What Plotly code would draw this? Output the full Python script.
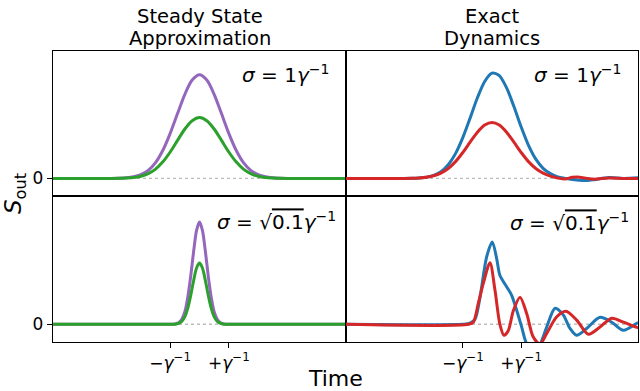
import plotly.graph_objects as go
from plotly.subplots import make_subplots

# ---------------- data ----------------
# time axis in units of 1/gamma
t_wide = [-5, -3, -2.75, -2.5, -2.25, -2, -1.75, -1.5, -1.25, -1, -0.75, -0.5, -0.25,
          0, 0.25, 0.5, 0.75, 1, 1.25, 1.5, 1.75, 2, 2.25, 2.5, 2.75, 3, 5]
ss_wide_purple = [0, 0, 0.002, 0.006, 0.015, 0.036, 0.078, 0.153, 0.272, 0.435, 0.626, 0.812, 0.949,
                  1.0, 0.949, 0.812, 0.626, 0.435, 0.272, 0.153, 0.078, 0.036, 0.015, 0.006, 0.002, 0, 0]
ss_wide_green = [0, 0, 0.001, 0.004, 0.009, 0.021, 0.046, 0.090, 0.160, 0.255, 0.367, 0.477, 0.557,
                 0.587, 0.557, 0.477, 0.367, 0.255, 0.160, 0.090, 0.046, 0.021, 0.009, 0.004, 0.001, 0, 0]

t_ex_wide = [-5, -3, -2.75, -2.5, -2.25, -2, -1.75, -1.5, -1.25, -1, -0.75, -0.5, -0.25,
             0, 0.25, 0.5, 0.75, 1, 1.25, 1.5, 1.75, 2, 2.25, 2.5, 2.75, 3, 3.25, 3.5, 4, 4.5, 5]
ex_wide_blue = [0, 0, 0.001, 0.004, 0.011, 0.029, 0.064, 0.131, 0.239, 0.393, 0.582, 0.778, 0.936,
                1.016, 0.992, 0.874, 0.694, 0.496, 0.319, 0.186, 0.097, 0.046, 0.015, 0.0, -0.01,
                -0.018, -0.02, -0.012, 0.008, 0.0, 0.005]
ex_wide_red = [0, 0, 0.001, 0.004, 0.011, 0.025, 0.051, 0.096, 0.162, 0.250, 0.350, 0.446, 0.515,
               0.54, 0.515, 0.446, 0.350, 0.250, 0.162, 0.096, 0.051, 0.022, 0.004, -0.006, 0.01,
               0.012, 0.0, -0.008, 0.004, 0.0, 0.0]

t_narrow = [-5, -1, -0.9, -0.8, -0.7, -0.6, -0.5, -0.4, -0.3, -0.2, -0.1,
            0, 0.1, 0.2, 0.3, 0.4, 0.5, 0.6, 0.7, 0.8, 0.9, 1, 5]
ss_narrow_purple = [0, 0, 0.001, 0.005, 0.017, 0.05, 0.12, 0.26, 0.46, 0.70, 0.90,
                    0.98, 0.90, 0.70, 0.46, 0.26, 0.12, 0.05, 0.017, 0.005, 0.001, 0, 0]
ss_narrow_green = [0, 0, 0.0, 0.003, 0.01, 0.029, 0.073, 0.155, 0.277, 0.42, 0.54,
                   0.587, 0.54, 0.42, 0.277, 0.155, 0.073, 0.029, 0.01, 0.003, 0.0, 0, 0]

t_ex_blue_narrow = [-5, -1.0, -0.75, -0.58, -0.41, -0.18, 0.01, 0.16, 0.27, 0.50, 0.67, 0.85, 1.02,
                    1.16, 1.4, 1.64, 1.87, 2.16, 2.44, 2.67, 2.90, 3.24, 3.70, 4.10, 4.5, 4.96, 5]
ex_narrow_blue = [0, 0, 0.01, 0.05, 0.26, 0.65, 0.79, 0.63, 0.47, 0.36, 0.28, 0.13, -0.03,
                  -0.17, -0.30, -0.20, -0.03, 0.154, 0.09, -0.04, -0.106, -0.04, 0.067, 0.02, -0.058, 0.01, 0.015]
t_ex_red_narrow = [-5, -0.8, -0.64, -0.47, -0.30, -0.07, 0.10, 0.27, 0.41, 0.56, 0.73, 0.96, 1.19,
                   1.41, 1.64, 1.87, 2.21, 2.53, 2.9, 3.30, 3.70, 4.10, 4.5, 4.96, 5]
ex_narrow_red = [0, 0, 0.02, 0.2, 0.39, 0.59, 0.33, 0.0, -0.106, -0.06, 0.13, 0.26, 0.10,
                 -0.12, -0.19, -0.09, 0.07, 0.125, 0.04, -0.096, -0.026, 0.058, 0.02, -0.03, -0.03]

col_titles = [["Steady State", "Approximation"], ["Exact", "Dynamics"]]
sigma_labels = ["<i>σ</i> = 1<i>γ</i><sup>−1</sup>",
                "<i>σ</i> = √<span style='text-decoration:overline'>0.1</span><i>γ</i><sup>−1</sup>"]
x_tick_vals = [-1, 1]
x_tick_text = ["−<i>γ</i><sup>−1</sup>", "+<i>γ</i><sup>−1</sup>"]
zero_t = [-5, 5]
zero_v = [0, 0]

PURPLE = "#9467bd"
GREEN = "#2ca02c"
BLUE = "#1f77b4"
RED = "#d62728"
FONT = "DejaVu Sans"

fig = make_subplots(rows=2, cols=2, horizontal_spacing=0, vertical_spacing=0)

panels = [
    (1, 1, t_wide, ss_wide_purple, PURPLE, t_wide, ss_wide_green, GREEN),
    (1, 2, t_ex_wide, ex_wide_blue, BLUE, t_ex_wide, ex_wide_red, RED),
    (2, 1, t_narrow, ss_narrow_purple, PURPLE, t_narrow, ss_narrow_green, GREEN),
    (2, 2, t_ex_blue_narrow, ex_narrow_blue, BLUE, t_ex_red_narrow, ex_narrow_red, RED),
]
for r, c, ta, ya, ca, tb, yb, cb in panels:
    fig.add_trace(go.Scatter(x=zero_t, y=zero_v, mode="lines",
                             line=dict(color="#bdbdbd", width=1.3, dash="dot"),
                             showlegend=False, hoverinfo="skip"), row=r, col=c)
    fig.add_trace(go.Scatter(x=ta, y=ya, mode="lines",
                             line=dict(color=ca, width=3, shape="spline", smoothing=0.8),
                             showlegend=False), row=r, col=c)
    fig.add_trace(go.Scatter(x=tb, y=yb, mode="lines",
                             line=dict(color=cb, width=3, shape="spline", smoothing=0.8),
                             showlegend=False), row=r, col=c)

xdom_l = [53 / 640, 346 / 640]
xdom_r = [346 / 640, 638 / 640]
ydom_t = [1 - 196 / 391, 1 - 51 / 391]
ydom_b = [1 - 342 / 391, 1 - 196 / 391]

axis_common = dict(showline=True, mirror=True, linecolor="black", linewidth=1.3,
                   showgrid=False, zeroline=False)
for r in (1, 2):
    for c in (1, 2):
        xd = xdom_l if c == 1 else xdom_r
        yd = ydom_t if r == 1 else ydom_b
        xa = dict(axis_common, domain=xd, range=[-5, 5])
        if r == 2:
            xa.update(tickmode="array", tickvals=x_tick_vals, ticktext=x_tick_text,
                      ticks="outside", ticklen=5, tickwidth=1.2, tickcolor="black",
                      tickfont=dict(family=FONT, size=17, color="black"))
        else:
            xa.update(showticklabels=False, ticks="")
        ya = dict(axis_common, domain=yd, range=[-0.17, 1.23])
        if c == 1:
            ya.update(tickmode="array", tickvals=[0], ticktext=["0"],
                      ticks="outside", ticklen=5, tickwidth=1.2, tickcolor="black",
                      tickfont=dict(family=FONT, size=17, color="black"))
        else:
            ya.update(showticklabels=False, ticks="")
        fig.update_xaxes(xa, row=r, col=c)
        fig.update_yaxes(ya, row=r, col=c)

annotations = []
for i, lines in enumerate(col_titles):
    xc = (199.5 if i == 0 else 492) / 640
    for j, line in enumerate(lines):
        py = 17 if j == 0 else 38
        annotations.append(dict(text=line, x=xc, y=1 - py / 391, xref="paper", yref="paper",
                                xanchor="center", yanchor="middle", showarrow=False,
                                font=dict(family=FONT, size=19.5, color="black")))
label_pos = [(331, 74, 0), (623, 74, 0), (338, 221, 1), (631, 222, 1)]
for px, py, k in label_pos:
    annotations.append(dict(text=sigma_labels[k], x=px / 640, y=1 - py / 391,
                            xref="paper", yref="paper", xanchor="right", yanchor="middle",
                            showarrow=False, font=dict(family=FONT, size=20, color="black")))
annotations.append(dict(text="Time", x=335 / 640, y=1 - 378 / 391, xref="paper", yref="paper",
                        xanchor="center", yanchor="middle", showarrow=False,
                        font=dict(family=FONT, size=22, color="black")))
annotations.append(dict(text="<i>S</i><sub>out</sub>", x=15 / 640, y=1 - 194 / 391,
                        xref="paper", yref="paper", xanchor="center", yanchor="middle",
                        textangle=-90, showarrow=False,
                        font=dict(family=FONT, size=23, color="black")))

fig.update_layout(width=640, height=391, margin=dict(l=0, r=0, t=0, b=0),
                  plot_bgcolor="white", paper_bgcolor="white",
                  annotations=annotations, showlegend=False)

fig.write_html("out.html", config={"displayModeBar": False},
               post_script="document.body.style.margin='0';document.body.style.padding='0';")
